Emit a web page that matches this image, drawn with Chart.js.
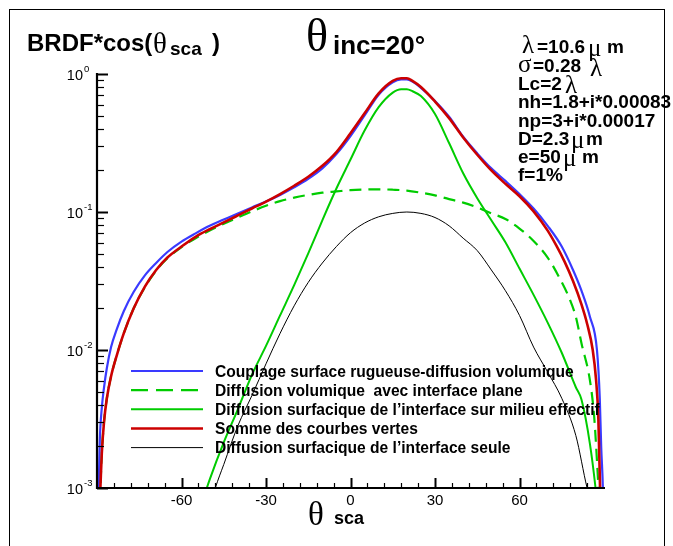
<!DOCTYPE html>
<html><head><meta charset="utf-8">
<script src="https://cdn.jsdelivr.net/npm/chart.js@4.4.1/dist/chart.umd.min.js"></script>
<style>
html,body{margin:0;padding:0;background:#fff;}
#wrap{position:relative;width:673px;height:546px;overflow:hidden;background:#fff;}
#frame{position:absolute;left:9px;top:9px;width:656px;height:600px;border:1px solid #000;box-sizing:border-box;}
#c{position:absolute;left:0;top:0;}
#ov{position:absolute;left:0;top:0;pointer-events:none;}
</style></head>
<body>
<div id="wrap"><div id="frame"></div><canvas id="c" width="673" height="546"></canvas><svg id="ov" width="673" height="546" xmlns="http://www.w3.org/2000/svg"></svg></div>
<script>
// ---------- data ----------
const seriesNames = [
  "Couplage surface rugueuse-diffusion volumique",
  "Diffusion volumique  avec interface plane",
  "Diffusion surfacique de l\u2019interface sur milieu effectif",
  "Somme des courbes vertes",
  "Diffusion surfacique de l\u2019interface seule"
];
// 1: Couplage (blue)
const angBlue = [-89.7,-89.4,-89,-88.3,-87.5,-86.5,-85,-83,-80.5,-77,-73,-69,-65,-60,-55,-50,-45,-40,-35,-30,-25,-20,-15,-10,-5,0,5,10,15,18,20,22,25,30,35,40,45,50,55,60,65,70,75,79,82,85,87.5,88.5,89,89.6,89.8];
const valBlue = [6.31e-4,1.0e-3,2.24e-3,3.80e-3,5.37e-3,7.41e-3,1.05e-2,1.41e-2,1.91e-2,2.63e-2,3.47e-2,4.27e-2,5.13e-2,6.10e-2,7.0e-2,7.94e-2,8.81e-2,9.77e-2,0.108,0.119,0.133,0.151,0.174,0.207,0.263,0.355,0.501,0.708,0.871,0.912,0.912,0.881,0.794,0.638,0.490,0.351,0.266,0.207,0.168,0.135,0.106,7.94e-2,5.62e-2,3.80e-2,2.69e-2,1.74e-2,1.0e-2,4.47e-3,2.0e-3,1.0e-3,6.3e-4];
// 2: Diffusion volumique (dashed green)
const angDash = [-89,-88.8,-88.3,-87.5,-86.5,-85,-83,-80.5,-77,-73,-69,-65,-60,-55,-50,-45,-40,-35,-30,-25,-20,-15,-10,-5,0,5,10,15,20,25,30,35,40,45,50,55,60,65,70,74,78,80,82,85,86.5,87.5,88,88.3];
const valDash = [7.94e-4,1.0e-3,1.78e-3,3.02e-3,4.47e-3,6.46e-3,9.12e-3,1.32e-2,2.0e-2,2.85e-2,3.76e-2,4.62e-2,5.56e-2,6.46e-2,7.33e-2,8.22e-2,9.12e-2,0.101,0.111,0.120,0.127,0.133,0.138,0.141,0.144,0.1455,0.146,0.145,0.143,0.138,0.132,0.124,0.117,0.108,9.77e-2,8.91e-2,7.59e-2,6.17e-2,4.68e-2,3.39e-2,2.29e-2,1.74e-2,1.12e-2,6.03e-3,3.31e-3,1.58e-3,1.0e-3,6.3e-4];
// 3: Diffusion surfacique sur milieu effectif (green)
const angGreen = [-52,-50,-45,-40,-35,-30,-25,-20,-15,-10,-5,0,5,10,15,18,20,22,25,30,35,40,45,50,55,60,65,70,75,80,82,85,87,87.5];
const valGreen = [8.7e-4,1.15e-3,2.14e-3,3.72e-3,6.61e-3,1.07e-2,1.78e-2,2.95e-2,5.01e-2,8.71e-2,0.148,0.240,0.389,0.575,0.733,0.776,0.776,0.750,0.692,0.513,0.316,0.191,0.126,8.71e-2,6.03e-2,3.89e-2,2.51e-2,1.58e-2,9.55e-3,5.37e-3,4.37e-3,2.09e-3,1.0e-3,7.9e-4];
// 4: Somme (red)
const angRed = [-89,-88.8,-88.3,-87.5,-86.5,-85,-83,-80.5,-77,-73,-69,-65,-60,-55,-50,-45,-40,-35,-30,-25,-20,-15,-10,-5,0,5,10,15,18,20,22,25,30,35,40,45,50,55,60,65,70,73,76,79,82,84,86,87.2,88,88.6,88.9];
const valRed = [7.94e-4,1.0e-3,1.78e-3,3.02e-3,4.47e-3,6.46e-3,9.12e-3,1.32e-2,2.0e-2,2.88e-2,3.80e-2,4.68e-2,5.62e-2,6.61e-2,7.50e-2,8.41e-2,9.44e-2,0.106,0.119,0.135,0.155,0.180,0.216,0.272,0.372,0.519,0.724,0.891,0.931,0.931,0.891,0.804,0.631,0.479,0.347,0.260,0.200,0.160,0.130,0.101,7.33e-2,5.75e-2,4.37e-2,3.16e-2,2.14e-2,1.55e-2,1.0e-2,6.03e-3,3.16e-3,1.0e-3,6.31e-4];
// 5: interface seule (black)
const angBlack = [-49,-48,-45,-40,-35,-30,-25,-20,-15,-10,-5,0,5,10,15,20,25,30,35,40,45,50,55,60,65,70,75,80,84,85];
const valBlack = [8.5e-4,1.0e-3,1.48e-3,2.82e-3,4.68e-3,7.94e-3,1.32e-2,2.09e-2,3.09e-2,4.27e-2,5.62e-2,7.08e-2,8.32e-2,9.23e-2,9.77e-2,0.100,9.77e-2,9.12e-2,7.94e-2,6.46e-2,5.25e-2,3.80e-2,2.69e-2,1.78e-2,1.05e-2,6.92e-3,4.47e-3,2.40e-3,1.0e-3,8.5e-4];

const xTickValues = [-60,-30,0,30,60];
const yTickValues = [1,0.1,0.01,0.001];
const yTickExps = ["0","-1","-2","-3"];

// ---------- styles ----------
const BLUE = '#3a3aff', RED = '#cc0000', GREEN = '#00cc00', BLACK = '#000000';
const pts = (a, v) => a.map((x, i) => ({x: x, y: v[i]}));

const datasets = [
  {label: seriesNames[3], data: pts(angRed, valRed), borderColor: RED, borderWidth: 2.6, order: 0},
  {label: seriesNames[0], data: pts(angBlue, valBlue), borderColor: BLUE, borderWidth: 2.2, order: 1},
  {label: seriesNames[2], data: pts(angGreen, valGreen), borderColor: GREEN, borderWidth: 2, order: 2},
  {label: seriesNames[1], data: pts(angDash, valDash), borderColor: GREEN, borderWidth: 2.2, borderDash: [12, 7], order: 3},
  {label: seriesNames[4], data: pts(angBlack, valBlack), borderColor: BLACK, borderWidth: 1, order: 4}
];
datasets.forEach(d => { d.pointRadius = 0; d.fill = false; d.cubicInterpolationMode = 'monotone'; });

const axesPlugin = {
  id: 'axesPlugin',
  afterDatasetsDraw(chart) {
    const {ctx, chartArea: ca, scales: {x, y}} = chart;
    ctx.save();
    ctx.strokeStyle = '#000';
    ctx.lineCap = 'butt';
    for (let v = -84; v <= 84; v += 6) {
      const px = Math.round(x.getPixelForValue(v)) + 0.5;
      const major = (v % 30 === 0);
      ctx.lineWidth = major ? 2 : 1.2;
      ctx.beginPath(); ctx.moveTo(px, ca.bottom); ctx.lineTo(px, ca.bottom - (major ? 10 : 5)); ctx.stroke();
    }
    for (let e = -3; e <= 0; e++) {
      for (let m = 1; m <= 9; m++) {
        const v = m * Math.pow(10, e);
        if (v > 1.0001) break;
        const py = Math.round(y.getPixelForValue(v)) + 0.5;
        const major = (m === 1);
        ctx.lineWidth = major ? 2 : 1.2;
        ctx.beginPath(); ctx.moveTo(ca.left, py); ctx.lineTo(ca.left + (major ? 11 : 7), py); ctx.stroke();
      }
    }
    ctx.lineWidth = 2.2;
    ctx.beginPath();
    ctx.moveTo(ca.left, ca.top - 1);
    ctx.lineTo(ca.left, ca.bottom);
    ctx.lineTo(ca.right + 1, ca.bottom);
    ctx.stroke();
    ctx.restore();
  }
};

const chart = new Chart(document.getElementById('c'), {
  type: 'line',
  data: {datasets: datasets},
  options: {
    responsive: false, animation: false, devicePixelRatio: 1,
    layout: {padding: {left: 0, right: 69, top: 74, bottom: 0}},
    plugins: {legend: {display: false}, tooltip: {enabled: false}},
    scales: {
      x: {
        type: 'linear', min: -90, max: 90,
        grid: {display: false, drawTicks: false}, border: {display: false},
        ticks: {padding: 4, color: '#000', font: {family: "'Liberation Sans', Arial, sans-serif", size: 15}, maxRotation: 0},
        afterBuildTicks: s => { s.ticks = xTickValues.map(v => ({value: v})); },
        afterFit: s => { s.height = 58; }
      },
      y: {
        type: 'logarithmic', min: 1e-3, max: 1,
        grid: {display: false, drawTicks: false}, border: {display: false},
        ticks: {display: false},
        afterFit: s => { s.width = 97; }
      }
    }
  },
  plugins: [axesPlugin]
});

// ---------- overlay text (SVG) ----------
const SANS = "'Liberation Sans', Arial, Helvetica, sans-serif";
const SERIF = "'Liberation Serif', 'Times New Roman', serif";
let svg = '';
const ys = chart.scales.y;
yTickValues.forEach((v, i) => {
  const py = ys.getPixelForValue(v);
  svg += `<text x="83" y="${py + 6}" text-anchor="end" font-family="${SANS}" font-size="14.5" fill="#000">10</text>`;
  svg += `<text x="84" y="${py - 2}" font-family="${SANS}" font-size="9.5" fill="#000">${yTickExps[i]}</text>`;
});
// y title
svg += `<text x="27" y="51" font-family="${SANS}" font-weight="bold" font-size="24" fill="#000">BRDF*cos(</text>`;
svg += `<text x="153" y="53" font-family="${SERIF}" font-size="29" fill="#000">\u03b8</text>`;
svg += `<text x="170" y="55" font-family="${SANS}" font-weight="bold" font-size="19" fill="#000">sca</text>`;
svg += `<text x="212" y="51" font-family="${SANS}" font-weight="bold" font-size="24" fill="#000">)</text>`;
// main title
svg += `<text x="306" y="51" font-family="${SERIF}" font-size="46" fill="#000">\u03b8</text>`;
svg += `<text x="333" y="54" font-family="${SANS}" font-weight="bold" font-size="26" fill="#000">inc=20°</text>`;
// parameters block
const B = 53.3, L = 18.3;
const pb = (k) => (B + L * k).toFixed(1);
const bold = `font-family="${SANS}" font-weight="bold" font-size="19" fill="#000"`;
const greek = `font-family="${SERIF}" font-size="25" fill="#000"`;
svg += `<text x="522" y="${pb(0)}" ${greek}>\u03bb</text><text x="537" y="${pb(0)}" ${bold}>=10.6</text><text x="588" y="${(B + 3).toFixed(1)}" ${greek}>\u03bc</text><text x="607" y="${pb(0)}" ${bold}>m</text>`;
svg += `<text x="518" y="${pb(1)}" ${greek}>\u03c3</text><text x="533" y="${pb(1)}" ${bold}>=0.28</text><text x="590" y="${(B + L + 4).toFixed(1)}" ${greek}>\u03bb</text>`;
svg += `<text x="518" y="${pb(2)}" ${bold}>Lc=2</text><text x="565" y="${(B + 2 * L + 3).toFixed(1)}" ${greek}>\u03bb</text>`;
svg += `<text x="518" y="${pb(3)}" ${bold}>nh=1.8+i*0.00083</text>`;
svg += `<text x="518" y="${pb(4)}" ${bold}>np=3+i*0.00017</text>`;
svg += `<text x="518" y="${pb(5)}" ${bold}>D=2.3</text><text x="571" y="${(B + 5 * L + 3).toFixed(1)}" ${greek}>\u03bc</text><text x="586" y="${pb(5)}" ${bold}>m</text>`;
svg += `<text x="518" y="${pb(6)}" ${bold}>e=50</text><text x="563" y="${(B + 6 * L + 3).toFixed(1)}" ${greek}>\u03bc</text><text x="582" y="${pb(6)}" ${bold}>m</text>`;
svg += `<text x="518" y="${pb(7)}" ${bold}>f=1%</text>`;
// x title
svg += `<text x="308" y="525" font-family="${SERIF}" font-size="33" fill="#000">\u03b8</text>`;
svg += `<text x="334" y="524" font-family="${SANS}" font-weight="bold" font-size="18" fill="#000">sca</text>`;
// legend (inside plot)
const legendOrder = [1, 3, 2, 0, 4];
legendOrder.forEach((di, k) => {
  const d = datasets[di];
  const ly = 371 + 19.15 * k;
  const dash = d.borderDash ? ` stroke-dasharray="17 8"` : '';
  svg += `<line x1="131" y1="${ly}" x2="203" y2="${ly}" stroke="${d.borderColor}" stroke-width="${d.borderWidth}"${dash}/>`;
  svg += `<text x="215" y="${ly + 5.5}" font-family="${SANS}" font-weight="bold" font-size="15.6" fill="#000" style="white-space:pre">${d.label}</text>`;
});
document.getElementById('ov').innerHTML = svg;
</script>
</body></html>
